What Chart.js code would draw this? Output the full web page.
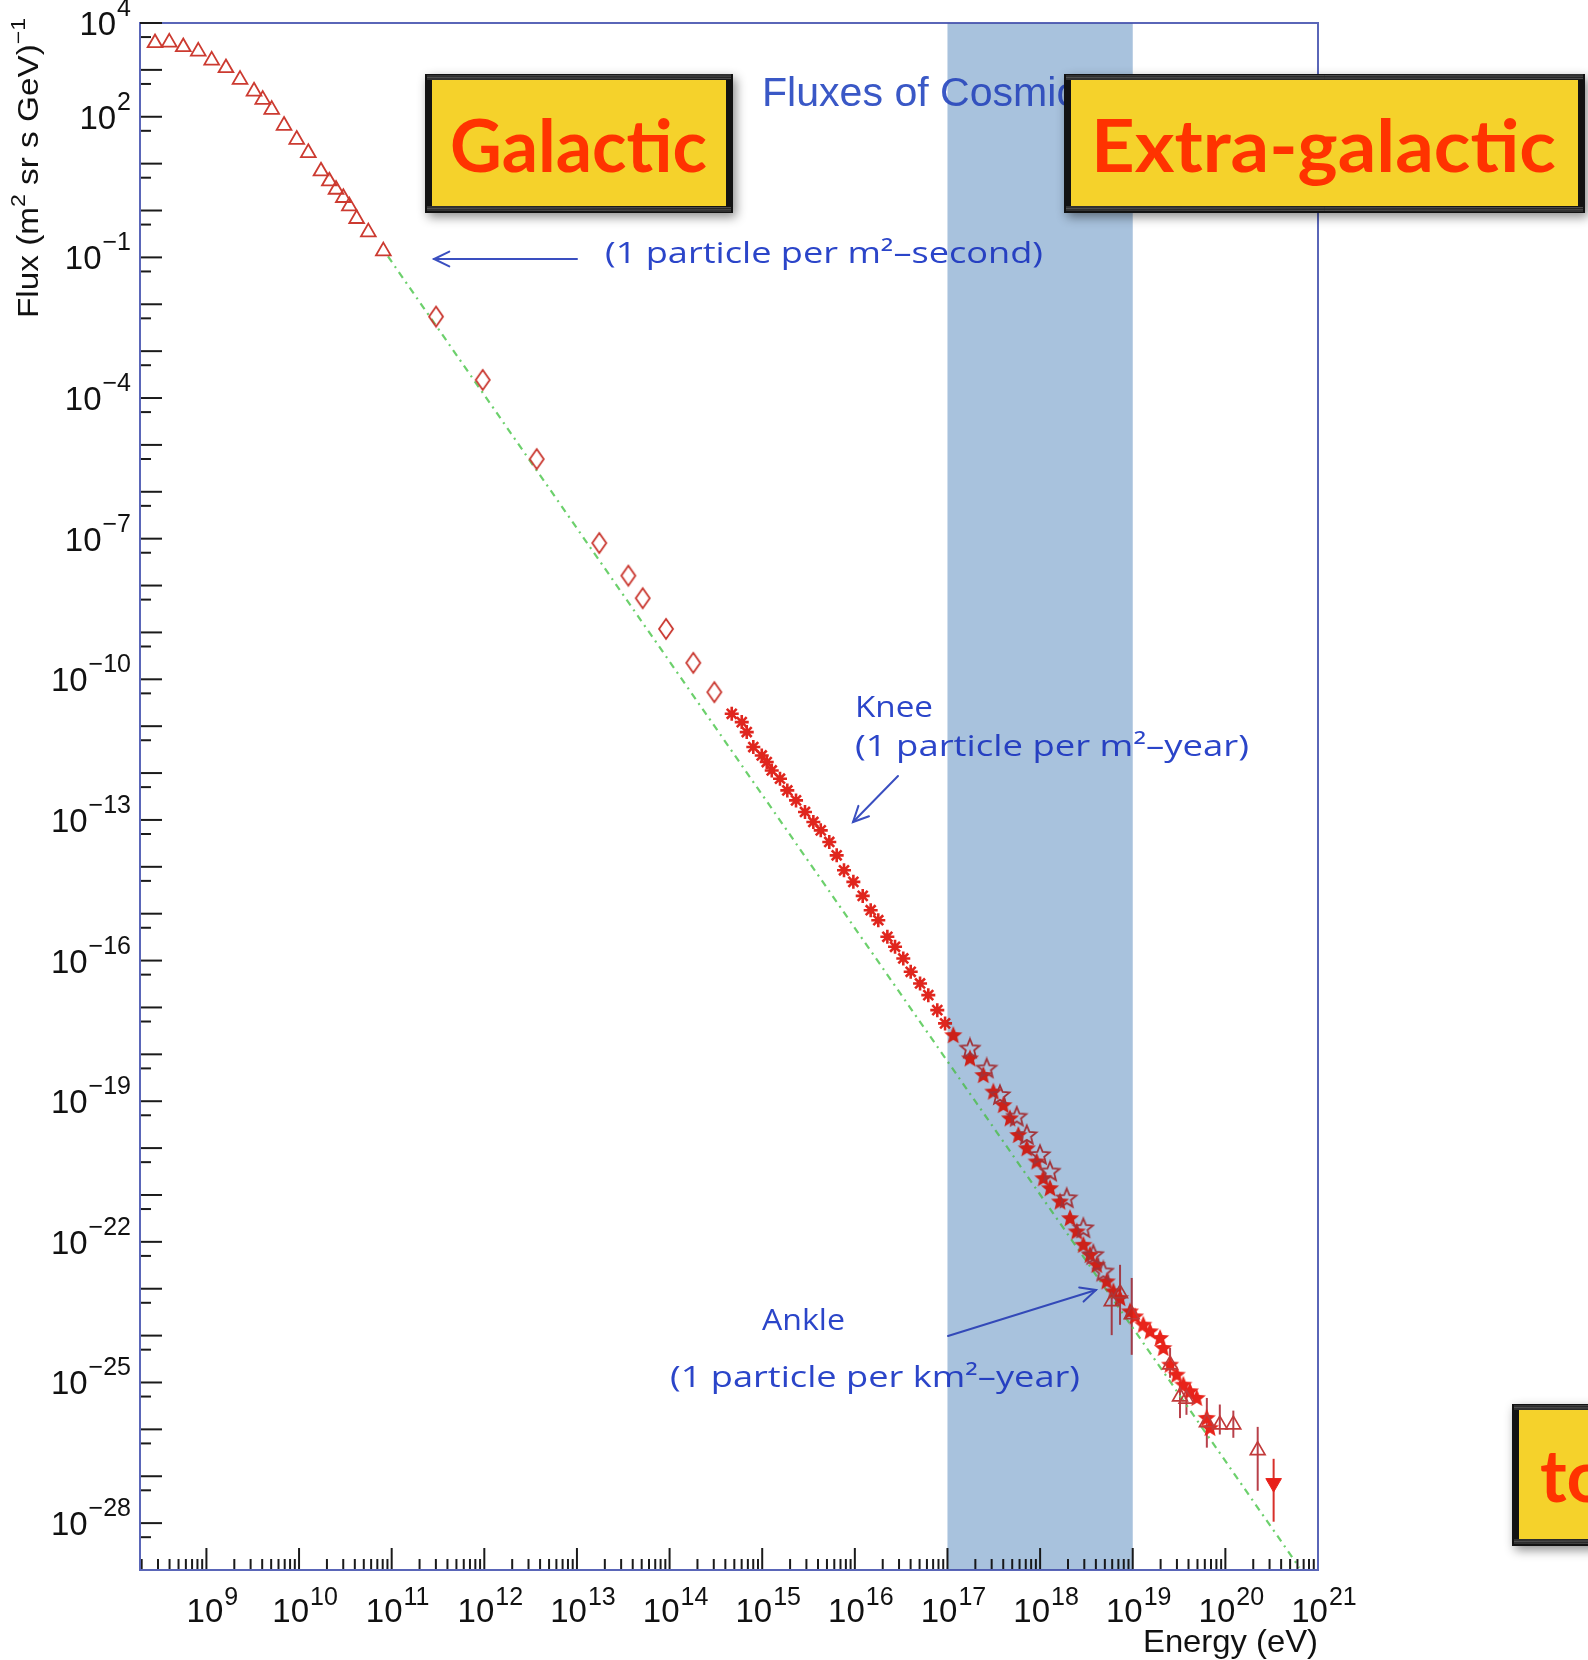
<!DOCTYPE html>
<html><head><meta charset="utf-8">
<script src="https://cdn.jsdelivr.net/npm/chart.js@4.4.1/dist/chart.umd.min.js"></script>
<style>html,body{margin:0;padding:0;background:#fff;}canvas{display:block;}</style>
</head><body>
<canvas id="c" width="1588" height="1660" style="width:1588px;height:1660px"></canvas>
<script>
// ---- axis ranges (log10 units) ----
const xMinExp = 8.283, xMaxExp = 21;
const yMinExp = -29, yMaxExp = 4;
// ---- tick labels (exponents of 10) ----
const xLabelExps = [9,10,11,12,13,14,15,16,17,18,19,20,21];
const yLabelExps = [4,2,-1,-4,-7,-10,-13,-16,-19,-22,-25,-28];
// ---- shaded band (energy exponents) ----
const bandExps = [17, 19];

// ---- data: log10(E/eV) and log10(flux) ----
const triLogE = [8.445,8.599,8.750,8.912,9.057,9.211,9.363,9.514,9.608,9.705,9.838,9.975,10.100,10.237,10.327,10.399,10.478,10.543,10.622,10.748,10.910];
const triLogF = [3.574,3.587,3.489,3.395,3.203,3.041,2.792,2.543,2.366,2.153,1.812,1.514,1.231,0.839,0.625,0.448,0.272,0.093,-0.176,-0.461,-0.866];

const diaLogE = [11.479,11.983,12.566,13.241,13.555,13.710,13.962,14.256,14.483];
const diaLogF = [-2.263,-3.613,-5.303,-7.093,-7.789,-8.271,-8.925,-9.649,-10.274];

const kneeLogE = [14.671,14.779,14.833,14.904,14.995,15.049,15.103,15.192,15.271,15.365,15.462,15.552,15.632,15.724,15.804,15.883,15.984,16.085,16.171,16.253,16.351,16.434,16.523,16.603,16.704,16.793,16.890,16.974];
const kneeLogF = [-10.736,-10.913,-11.126,-11.445,-11.624,-11.765,-11.944,-12.121,-12.370,-12.583,-12.830,-13.043,-13.222,-13.469,-13.755,-14.074,-14.321,-14.620,-14.926,-15.139,-15.493,-15.706,-15.955,-16.239,-16.488,-16.737,-17.057,-17.340];

const ankleLogE = [17.063,17.243,17.387,17.495,17.603,17.675,17.765,17.856,17.963,18.035,18.107,18.215,18.323,18.395,18.467,18.539,18.611,18.719,18.791,18.863,18.971,19.025,19.114,19.187,19.295,19.330,19.403,19.475,19.546,19.618,19.691,19.799,19.834];
const ankleLogF = [-17.589,-18.086,-18.442,-18.795,-19.081,-19.364,-19.720,-20.003,-20.286,-20.642,-20.855,-21.139,-21.494,-21.777,-22.063,-22.276,-22.489,-22.843,-23.056,-23.198,-23.482,-23.589,-23.767,-23.908,-24.051,-24.264,-24.620,-24.833,-25.046,-25.186,-25.329,-25.755,-25.968];

const openLogE = [17.243,17.424,17.567,17.748,17.856,17.999,18.107,18.287,18.467,18.575,18.683];
const openLogF = [-17.873,-18.299,-18.867,-19.328,-19.720,-20.146,-20.499,-21.068,-21.707,-22.276,-22.630];

const errLogE = [18.773,18.863,18.989,19.403,19.510,19.580,19.800,19.940,20.086,20.349];
const errLogF = [-23.27,-23.10,-23.55,-24.62,-25.30,-25.35,-25.85,-25.90,-25.90,-26.447];
const errTopF = [-23.05,-22.49,-22.77,-24.26,-24.97,-25.05,-25.33,-25.47,-25.60,-25.947];
const errBotF = [-23.99,-23.77,-24.41,-24.90,-25.76,-25.69,-26.39,-26.11,-26.18,-27.31];

const limLogE = [20.521];
const limLogF = [-27.146];
const limTopF = [-26.628];
const limBotF = [-27.97];

const fitLogE = [10.96, 20.80];
const fitLogF = [-0.98, -28.95];

// ---- helpers ----
const P = e => Math.pow(10, e);
const pts = (le, lf) => le.map((e, i) => ({x: P(e), y: P(lf[i])}));

function markerCanvas(w, h, draw) {
  const c = document.createElement('canvas'); c.width = w; c.height = h;
  draw(c.getContext('2d')); return c;
}
const diamondImg = markerCanvas(18, 24, g => {
  g.strokeStyle = '#c9352d'; g.lineWidth = 1.8;
  g.beginPath(); g.moveTo(9, 2); g.lineTo(16, 12); g.lineTo(9, 22); g.lineTo(2, 12); g.closePath(); g.stroke();
});
function starPath(g, cx, cy, R, r) {
  g.beginPath();
  for (let i = 0; i < 10; i++) {
    const a = -Math.PI / 2 + i * Math.PI / 5, rr = i % 2 ? r : R;
    g.lineTo(cx + rr * Math.cos(a), cy + rr * Math.sin(a));
  }
  g.closePath();
}
const starFilledImg = markerCanvas(22, 22, g => { starPath(g, 11, 11.5, 9.5, 4.2); g.fillStyle = '#e8231a'; g.fill(); });
const starOpenImg = markerCanvas(24, 24, g => { starPath(g, 12, 12.5, 10, 4.4); g.strokeStyle = '#b8363a'; g.lineWidth = 1.8; g.stroke(); });

function fitText(ctx, text, x, y, w, font, color) {
  ctx.save(); ctx.font = font; ctx.fillStyle = color; ctx.textBaseline = 'alphabetic'; ctx.textAlign = 'left';
  const m = ctx.measureText(text).width;
  ctx.translate(x, y); ctx.scale(w / m, 1); ctx.fillText(text, 0, 0); ctx.restore();
}
function arrow(ctx, x1, y1, x2, y2, color) {
  ctx.save(); ctx.strokeStyle = color; ctx.lineWidth = 2; ctx.lineCap = 'round';
  ctx.beginPath(); ctx.moveTo(x1, y1); ctx.lineTo(x2, y2); ctx.stroke();
  const a = Math.atan2(y2 - y1, x2 - x1), L = 17, s = 0.45;
  ctx.beginPath();
  ctx.moveTo(x2 - L * Math.cos(a - s), y2 - L * Math.sin(a - s));
  ctx.lineTo(x2, y2);
  ctx.lineTo(x2 - L * Math.cos(a + s), y2 - L * Math.sin(a + s));
  ctx.stroke(); ctx.restore();
}
function pow10Label(ctx, exp, x, y, mode) {
  const base = '33px "Liberation Sans", Arial, sans-serif';
  const sup = '25px "Liberation Sans", Arial, sans-serif';
  const es = exp < 0 ? '\u2212' + (-exp) : String(exp);
  ctx.font = base; const w10 = ctx.measureText('10').width;
  ctx.font = sup; const we = ctx.measureText(es).width;
  let sx, by, ey;
  if (mode === 'y') { sx = x - w10 - we - 1; by = y + 12; ey = y - 7; }
  else { sx = x + 6 - (w10 + we + 1) / 2; by = y; ey = y - 17; }
  ctx.fillStyle = '#111'; ctx.textAlign = 'left'; ctx.textBaseline = 'alphabetic';
  ctx.font = base; ctx.fillText('10', sx, by);
  ctx.font = sup; ctx.fillText(es, sx + w10 + 1, ey);
}
function yellowBox(ctx, x1, y1, x2, y2) {
  ctx.save();
  ctx.shadowColor = 'rgba(0,0,0,0.45)'; ctx.shadowBlur = 10; ctx.shadowOffsetX = 3; ctx.shadowOffsetY = 4;
  ctx.fillStyle = '#121212'; ctx.fillRect(x1, y1, x2 - x1, y2 - y1);
  ctx.restore();
  ctx.fillStyle = '#f5d22b'; ctx.fillRect(x1 + 7, y1 + 6, x2 - x1 - 14, y2 - y1 - 13);
  ctx.save(); ctx.strokeStyle = 'rgba(120,120,120,0.6)'; ctx.lineWidth = 1;
  for (let i = 0; i < 3; i++) {
    ctx.beginPath(); ctx.moveTo(x1 + 2, y1 + 2 + i * 1.5); ctx.lineTo(x2 - 2, y1 + 1 + i * 1.8); ctx.stroke();
    ctx.beginPath(); ctx.moveTo(x1 + 2, y2 - 3 - i * 1.5); ctx.lineTo(x2 - 2, y2 - 2 - i * 1.7); ctx.stroke();
  }
  ctx.restore();
}
function bandRect(chart) {
  const {scales: {x}, chartArea: a} = chart;
  const bx1 = x.getPixelForValue(P(bandExps[0])), bx2 = x.getPixelForValue(P(bandExps[1]));
  return [bx1, a.top, bx2 - bx1, a.bottom - a.top];
}

const deco = {
  id: 'deco',
  beforeDatasetsDraw(chart) {
    const {ctx, scales: {x, y}, chartArea: a} = chart;
    // shaded band underlay
    ctx.save(); ctx.fillStyle = '#bfd3e6'; ctx.fillRect(...bandRect(chart)); ctx.restore();
    // error bars
    ctx.save();
    ctx.beginPath(); ctx.rect(a.left, a.top, a.right - a.left, a.bottom - a.top); ctx.clip();
    chart.data.datasets.forEach(ds => {
      if (!ds.errTop) return;
      ctx.strokeStyle = ds.errColor; ctx.lineWidth = 2;
      ds.data.forEach((p, i) => {
        const px = x.getPixelForValue(p.x);
        ctx.beginPath();
        ctx.moveTo(px, y.getPixelForValue(P(ds.errTop[i])));
        ctx.lineTo(px, y.getPixelForValue(P(ds.errBot[i])));
        ctx.stroke();
      });
    });
    ctx.restore();
  },
  afterDraw(chart) {
    const {ctx, scales: {x, y}, chartArea: a} = chart;
    const blue = '#2b45c9';
    // title and annotations
    fitText(ctx, 'Fluxes of Cosmic Rays', 762, 106, 420, '40px "Liberation Sans", Arial, sans-serif', '#3a58c6');
    fitText(ctx, '(1 particle per m\u00b2\u2013second)', 605, 263, 438, '30px "Open Sans", sans-serif', blue);
    fitText(ctx, 'Knee', 855, 717, 78, '30px "Open Sans", sans-serif', blue);
    fitText(ctx, '(1 particle per m\u00b2\u2013year)', 855, 756, 394, '30px "Open Sans", sans-serif', blue);
    fitText(ctx, 'Ankle', 762, 1330, 83, '30px "Open Sans", sans-serif', blue);
    fitText(ctx, '(1 particle per km\u00b2\u2013year)', 670, 1387, 410, '30px "Open Sans", sans-serif', blue);
    arrow(ctx, 577, 259, 434, 259, '#3a4fc0');
    arrow(ctx, 898, 776, 853, 822, '#3a4fc0');
    arrow(ctx, 948, 1336, 1096, 1290, '#3a4fc0');

    // ticks
    ctx.save(); ctx.strokeStyle = '#1a1a1a'; ctx.lineWidth = 2;
    for (let e = Math.ceil(yMinExp); e <= yMaxExp; e++) {
      const py = y.getPixelForValue(P(e));
      ctx.beginPath(); ctx.moveTo(a.left, py); ctx.lineTo(a.left + 22, py); ctx.stroke();
      const ps = e - 0.3;
      if (ps > yMinExp) {
        const pys = y.getPixelForValue(P(ps));
        ctx.beginPath(); ctx.moveTo(a.left, pys); ctx.lineTo(a.left + 11, pys); ctx.stroke();
      }
    }
    for (let n = Math.floor(xMinExp); n <= xMaxExp; n++) {
      for (let m = 1; m <= 9; m++) {
        const le = n + Math.log10(m);
        if (le < xMinExp || le > xMaxExp + 1e-9) continue;
        const px = x.getPixelForValue(P(le));
        const len = m === 1 ? 22 : 11;
        ctx.beginPath(); ctx.moveTo(px, a.bottom); ctx.lineTo(px, a.bottom - len); ctx.stroke();
      }
    }
    ctx.restore();

    // frame
    ctx.save(); ctx.strokeStyle = '#5a66b8'; ctx.lineWidth = 2;
    ctx.strokeRect(a.left, a.top, a.right - a.left, a.bottom - a.top);
    ctx.restore();
    ctx.save(); ctx.strokeStyle = '#1a1a1a'; ctx.lineWidth = 2;
    ctx.beginPath(); ctx.moveTo(a.left, a.top); ctx.lineTo(a.left + 22, a.top); ctx.stroke(); ctx.restore();

    // tick labels
    yLabelExps.forEach(e => pow10Label(ctx, e, 131, y.getPixelForValue(P(e)), 'y'));
    xLabelExps.forEach(e => pow10Label(ctx, e, x.getPixelForValue(P(e)), 1622, 'x'));

    // axis titles
    ctx.save();
    ctx.fillStyle = '#111';
    ctx.translate(38, 318); ctx.rotate(-Math.PI / 2);
    const runs = [['Flux (m', 0], ['2', 1], [' sr s GeV)', 0], ['\u22121', 1]];
    let tot = 0;
    runs.forEach(r => { ctx.font = (r[1] ? '20px' : '29px') + ' "Liberation Sans", Arial, sans-serif'; tot += ctx.measureText(r[0]).width; });
    ctx.scale(300 / tot, 1);
    let cx = 0;
    runs.forEach(r => {
      ctx.font = (r[1] ? '20px' : '29px') + ' "Liberation Sans", Arial, sans-serif';
      ctx.fillText(r[0], cx, r[1] ? -13 : 0);
      cx += ctx.measureText(r[0]).width;
    });
    ctx.restore();
    fitText(ctx, 'Energy (eV)', 1143, 1652, 175, '32px "Liberation Sans", Arial, sans-serif', '#111');

    // light tint over everything inside the band
    ctx.save(); ctx.globalCompositeOperation = 'multiply';
    ctx.fillStyle = '#e1ebf5'; ctx.fillRect(...bandRect(chart));
    ctx.restore();

    // yellow labels
    yellowBox(ctx, 425, 74, 733, 213);
    fitText(ctx, 'Galactic', 450, 172, 257, 'bold 72px Lato, "Open Sans", sans-serif', '#ff3300');
    yellowBox(ctx, 1064, 74, 1585, 213);
    fitText(ctx, 'Extra-galactic', 1091, 172, 465, 'bold 72px Lato, "Open Sans", sans-serif', '#ff3300');
    yellowBox(ctx, 1512, 1404, 1720, 1546);
    ctx.save(); ctx.font = 'bold 72px Lato, "Open Sans", sans-serif'; ctx.fillStyle = '#ff3300';
    ctx.fillText('to', 1540, 1502); ctx.restore();
  }
};

new Chart(document.getElementById('c'), {
  type: 'scatter',
  data: {
    datasets: [
      {label: 'limit', data: pts(limLogE, limLogF), pointStyle: 'triangle', rotation: 180, pointRadius: 9,
       backgroundColor: '#e8201a', borderColor: '#e8201a', borderWidth: 1,
       errTop: limTopF, errBot: limBotF, errColor: '#d8302a'},
      {label: 'err', data: pts(errLogE, errLogF), pointStyle: 'triangle', pointRadius: 8.5,
       backgroundColor: 'rgba(0,0,0,0)', borderColor: '#c23a3a', borderWidth: 1.7,
       errTop: errTopF, errBot: errBotF, errColor: '#b8404a'},
      {label: 'ankle open', data: pts(openLogE, openLogF), pointStyle: starOpenImg, pointRadius: 6},
      {label: 'ankle', data: pts(ankleLogE, ankleLogF), pointStyle: starFilledImg, pointRadius: 6},
      {label: 'knee', data: pts(kneeLogE, kneeLogF), pointStyle: 'star', pointRadius: 7,
       borderColor: '#e0261e', backgroundColor: '#e0261e', borderWidth: 2.6},
      {label: 'diamonds', data: pts(diaLogE, diaLogF), pointStyle: diamondImg, pointRadius: 6},
      {label: 'triangles', data: pts(triLogE, triLogF), pointStyle: 'triangle', pointRadius: 8.5,
       backgroundColor: 'rgba(0,0,0,0)', borderColor: '#cc3a30', borderWidth: 1.8},
      {label: 'fit', type: 'line', data: pts(fitLogE, fitLogF), showLine: true, pointRadius: 0,
       borderColor: 'rgba(100,205,100,0.95)', borderWidth: 2.2, borderDash: [7, 5, 2, 5], fill: false}
    ]
  },
  options: {
    responsive: false, animation: false, events: [],
    layout: {padding: {left: 140, top: 23, right: 270, bottom: 90}},
    plugins: {legend: {display: false}, tooltip: {enabled: false}, title: {display: false}},
    scales: {
      x: {type: 'logarithmic', min: P(xMinExp), max: P(xMaxExp),
          ticks: {display: false}, grid: {display: false, drawTicks: false, tickLength: 0}, border: {display: false}},
      y: {type: 'logarithmic', min: P(yMinExp), max: P(yMaxExp),
          ticks: {display: false}, grid: {display: false, drawTicks: false, tickLength: 0}, border: {display: false}}
    }
  },
  plugins: [deco]
});
</script>
</body></html>
